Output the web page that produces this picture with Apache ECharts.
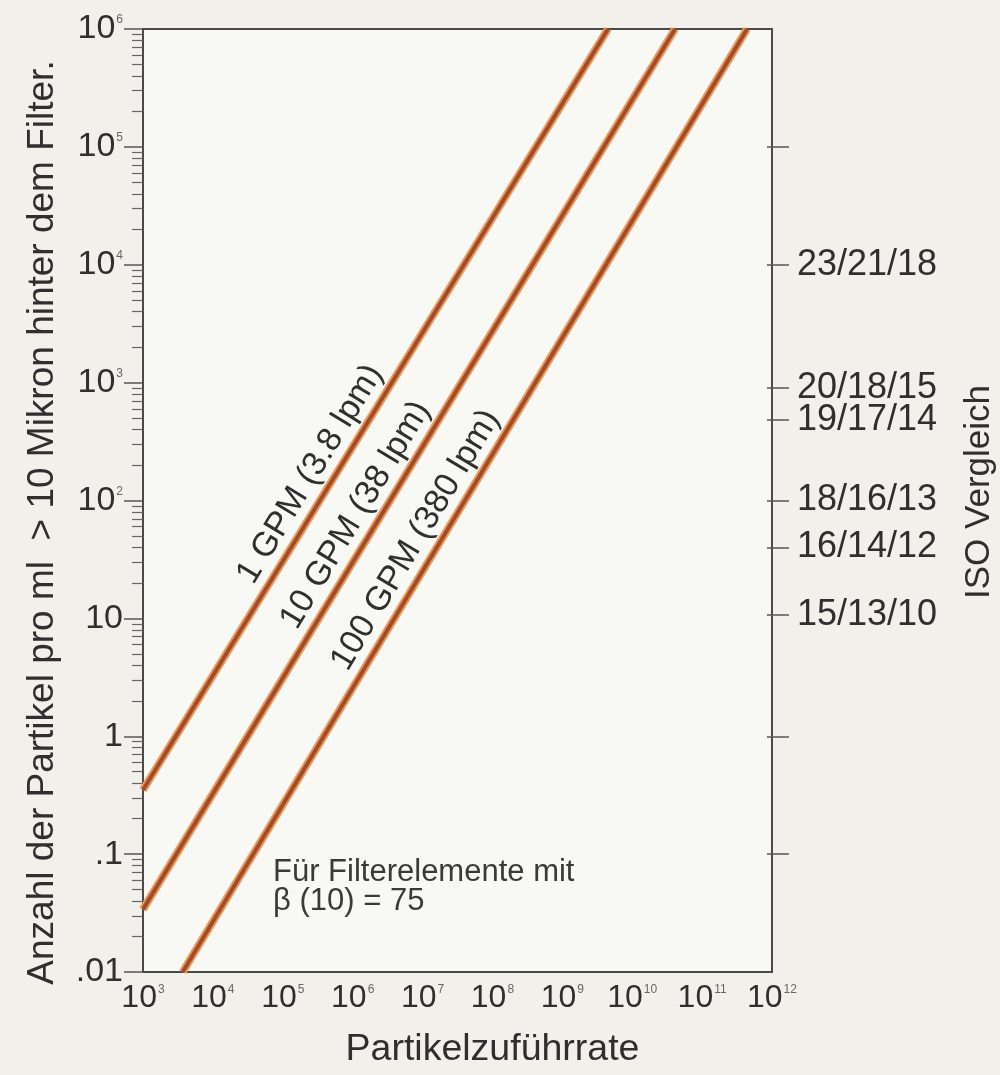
<!DOCTYPE html>
<html>
<head>
<meta charset="utf-8">
<script src="https://cdn.jsdelivr.net/npm/echarts@6/dist/echarts.min.js"></script>
<style>
  html, body { margin: 0; padding: 0; background: #f2f0ea; }
  #chart { width: 1000px; height: 1075px; }
</style>
</head>
<body>
<div id="chart"></div>
<script>
// Downstream particle count (>10 µm per ml) vs. particle supply rate, beta(10) = 75.
// Each flow line is straight on log-log axes, so its two end points define it.
const gpm1   = [[1e3, 0.35], [4.5e9, 1e6]];
const gpm10  = [[1e3, 0.034], [4.1e10, 1e6]];
const gpm100 = [[3.7e3, 0.01], [4.4e11, 1e6]];
const lineNames = ['1 GPM (3.8 lpm)', '10 GPM (38 lpm)', '100 GPM (380 lpm)'];

// Tick labels ('^' marks an exponent)
const xTickLabels = ['10^3', '10^4', '10^5', '10^6', '10^7', '10^8', '10^9', '10^10', '10^11', '10^12'];
const yTickLabels = ['.01', '.1', '1', '10', '10^2', '10^3', '10^4', '10^5', '10^6'];

// ISO 4406 comparison scale on the right-hand axis
const isoValues = [1e5, 1e4, 900, 480, 100, 40, 10.7, 1, 0.1];
const isoLabels = ['', '23/21/18', '20/18/15', '19/17/14', '18/16/13', '16/14/12', '15/13/10', '', ''];

const noteLines = ['Für Filterelemente mit', 'β (10) = 75'];

const X_MIN = 1e3, X_MAX = 1e12, Y_MIN = 0.01, Y_MAX = 1e6;
const FONT = '"Liberation Sans", Arial, Helvetica, sans-serif';
const TEXT = '#2f2f2f';
const AXIS = '#4a4a4a';

// log-decade minor ticks (2..9 x 10^k) for the left axis
const minorTicks = [];
for (let k = Math.log10(Y_MIN); k < Math.log10(Y_MAX); k++) {
  for (let m = 2; m <= 9; m++) minorTicks.push(m * Math.pow(10, k));
}

function richTick(s) {
  const p = s.split('^');
  return p.length > 1 ? '{n|' + p[0] + '}{s|' + p[1] + '}' : '{n|' + s + '}';
}
function makeRich(size) {
  return {
    n: { fontSize: size, fontFamily: FONT, color: TEXT },
    s: { fontSize: 12, fontFamily: FONT, color: '#666', verticalAlign: 'top', padding: [2, 0, 0, 1] }
  };
}
function decadeLabel(list, minVal) {
  return function (v) {
    const i = Math.round(Math.log10(v) - Math.log10(minVal));
    return list[i] !== undefined ? richTick(list[i]) : '';
  };
}
function isoLabel(v) {
  for (let i = 0; i < isoValues.length; i++) {
    if (Math.abs(Math.log10(v) - Math.log10(isoValues[i])) < 1e-6) return isoLabels[i];
  }
  return '';
}

// point along a line (fraction t, measured in log space) used to anchor its caption
function pointAt(data, t) {
  const a = data[0], b = data[data.length - 1];
  const lx = Math.log10(a[0]) + t * (Math.log10(b[0]) - Math.log10(a[0]));
  const ly = Math.log10(a[1]) + t * (Math.log10(b[1]) - Math.log10(a[1]));
  return [Math.pow(10, lx), Math.pow(10, ly)];
}

const flowLines = [
  { data: gpm1, name: lineNames[0], t: 0.40 },
  { data: gpm10, name: lineNames[1], t: 0.435 },
  { data: gpm100, name: lineNames[2], t: 0.446 }
];

function buildSeries(angles) {
  const out = [];
  flowLines.forEach(function (f, i) {
    out.push({
      type: 'line', data: f.data, xAxisIndex: 0, yAxisIndex: 0,
      symbol: 'none', silent: true, z: 2,
      lineStyle: { color: '#e99a5e', width: 8 }
    });
    out.push({
      type: 'line', name: f.name, data: f.data, xAxisIndex: 0, yAxisIndex: 0,
      symbol: 'none', silent: true, z: 3,
      lineStyle: { color: '#a24d27', width: 4 },
      markPoint: {
        symbol: 'circle', symbolSize: 1, silent: true,
        itemStyle: { color: 'rgba(0,0,0,0)' },
        label: {
          show: true, position: 'inside', formatter: f.name,
          fontSize: 34, fontFamily: FONT, color: TEXT,
          rotate: angles[i], offset: [0, -22]
        },
        data: [{ coord: pointAt(f.data, f.t) }]
      }
    });
  });
  return out;
}

const logAxisBase = { type: 'log', logBase: 10, min: Y_MIN, max: Y_MAX, splitLine: { show: false } };

const option = {
  animation: false,
  backgroundColor: '#f2f0ea',
  grid: {
    left: 143, right: 228, top: 29, bottom: 103,
    show: true, backgroundColor: '#f8f8f5', borderColor: AXIS, borderWidth: 2,
    containLabel: false, outerBoundsMode: 'none'
  },
  xAxis: {
    type: 'log', logBase: 10, min: X_MIN, max: X_MAX, splitNumber: 9,
    splitLine: { show: false },
    axisLine: { show: true, lineStyle: { color: AXIS, width: 2 } },
    axisTick: { show: false },
    axisLabel: { formatter: decadeLabel(xTickLabels, X_MIN), rich: makeRich(32), margin: 10, hideOverlap: false },
    name: 'Partikelzuführrate', nameLocation: 'middle', nameGap: 59,
    nameTextStyle: { fontSize: 37.5, fontFamily: FONT, color: TEXT, padding: [0, 0, 0, 70] }
  },
  yAxis: [
    Object.assign({}, logAxisBase, {
      position: 'left', splitNumber: 8,
      axisLine: { show: true, lineStyle: { color: AXIS, width: 2 } },
      axisTick: { show: true, length: 19, lineStyle: { color: '#555', width: 1.5 } },
      axisLabel: { formatter: decadeLabel(yTickLabels, Y_MIN), rich: makeRich(34), margin: 20, hideOverlap: false },
      name: 'Anzahl der Partikel pro ml  > 10 Mikron hinter dem Filter.',
      nameLocation: 'middle', nameRotate: 90, nameGap: 82,
      nameTextStyle: { fontSize: 37, fontFamily: FONT, color: TEXT, padding: [0, 44, 0, 0] }
    }),
    Object.assign({}, logAxisBase, {
      position: 'left',
      axisLine: { show: false },
      axisTick: { show: true, length: 11, customValues: minorTicks, lineStyle: { color: '#666', width: 1.2 } },
      axisLabel: { show: false }
    }),
    Object.assign({}, logAxisBase, {
      position: 'right',
      axisLine: { show: false },
      axisTick: { show: true, length: 17, customValues: isoValues, lineStyle: { color: '#555', width: 1.5 } },
      axisLabel: {
        customValues: isoValues, formatter: isoLabel, margin: 25,
        fontSize: 36, fontFamily: FONT, color: TEXT, hideOverlap: false
      },
      name: 'ISO Vergleich', nameLocation: 'middle', nameRotate: 90, nameGap: 190,
      nameTextStyle: { fontSize: 35, fontFamily: FONT, color: TEXT, padding: [0, 0, 0, 17] }
    }),
    Object.assign({}, logAxisBase, {
      position: 'right',
      axisLine: { show: false },
      axisTick: { show: true, inside: true, length: 5, customValues: isoValues, lineStyle: { color: '#555', width: 1.5 } },
      axisLabel: { show: false }
    })
  ],
  graphic: [{
    type: 'text', left: 273, top: 857, z: 10,
    style: {
      text: noteLines.join('\n'), fontSize: 31, fontFamily: FONT,
      fill: '#3a3a3a', lineHeight: 29
    }
  }],
  series: buildSeries([0, 0, 0])
};

const chart = echarts.init(document.getElementById('chart'), null, { renderer: 'canvas' });
chart.setOption(option);

// caption angles follow each line's on-screen slope
const angles = flowLines.map(function (f) {
  const a = chart.convertToPixel({ xAxisIndex: 0, yAxisIndex: 0 }, f.data[0]);
  const b = chart.convertToPixel({ xAxisIndex: 0, yAxisIndex: 0 }, f.data[f.data.length - 1]);
  return Math.atan2(a[1] - b[1], b[0] - a[0]) * 180 / Math.PI;
});
chart.setOption({ series: buildSeries(angles) });
</script>
</body>
</html>
